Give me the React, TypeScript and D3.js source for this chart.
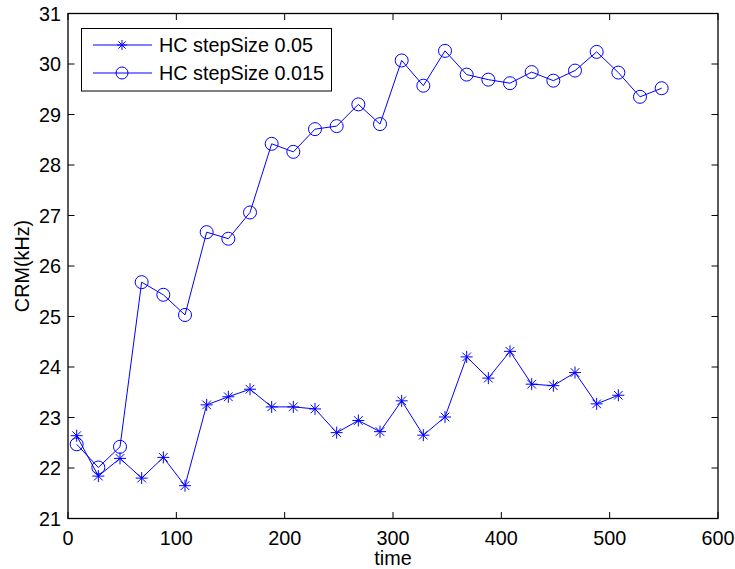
import React from "react";
import * as d3 from "d3";

const timesStar = [8, 28, 48, 68, 88, 108, 128, 148, 168, 188, 208, 228, 248, 268, 288, 308, 328, 348, 368, 388, 408, 428, 448, 468, 488, 508];
const valuesStar = [22.64, 21.84, 22.19, 21.8, 22.21, 21.65, 23.25, 23.41, 23.56, 23.21, 23.21, 23.17, 22.7, 22.94, 22.72, 23.33, 22.65, 23.01, 24.2, 23.78, 24.31, 23.66, 23.63, 23.89, 23.27, 23.44];

const timesCircle = [8, 28, 48, 68, 88, 108, 128, 148, 168, 188, 208, 228, 248, 268, 288, 308, 328, 348, 368, 388, 408, 428, 448, 468, 488, 508, 528, 548];
const valuesCircle = [22.47, 22.01, 22.42, 25.68, 25.43, 25.03, 26.67, 26.54, 27.06, 28.42, 28.26, 28.71, 28.77, 29.2, 28.81, 30.07, 29.57, 30.26, 29.79, 29.69, 29.62, 29.84, 29.67, 29.87, 30.24, 29.83, 29.35, 29.52];

const xTicks = [0, 100, 200, 300, 400, 500, 600];
const yTicks = [21, 22, 23, 24, 25, 26, 27, 28, 29, 30, 31];
const legendLabels = ["HC stepSize 0.05", "HC stepSize 0.015"];

const W = 735, H = 569;
const L = 68, R = 718, T = 13.5, B = 518.5;
const FONT = "'Liberation Sans', Arial, Helvetica, sans-serif";
const FS = 19.8;
const BLUE = "#0000ff";

function Star({ x, y, s }: { x: number; y: number; s: number }) {
  const d = s * 0.72;
  return (
    <g stroke={BLUE} strokeWidth={1}>
      <line x1={x - s} y1={y} x2={x + s} y2={y} />
      <line x1={x} y1={y - s} x2={x} y2={y + s} />
      <line x1={x - d} y1={y - d} x2={x + d} y2={y + d} />
      <line x1={x - d} y1={y + d} x2={x + d} y2={y - d} />
    </g>
  );
}

export default function App() {
  const x = d3.scaleLinear().domain([0, 600]).range([L, R]);
  const y = d3.scaleLinear().domain([21, 31]).range([B, T]);
  const starPts = timesStar.map((t, i) => [x(t), y(valuesStar[i])] as [number, number]);
  const circPts = timesCircle.map((t, i) => [x(t), y(valuesCircle[i])] as [number, number]);
  const line = d3.line<[number, number]>();
  const tl = 6.5;

  return (
    <svg width={W} height={H} style={{ position: "absolute", left: 0, top: 0, background: "#fff" }}>
      <rect x={0} y={0} width={W} height={H} fill="#fff" />
      <g stroke="#000" strokeWidth={1}>
        {xTicks.map((t) => (
          <g key={"xt" + t}>
            <line x1={x(t)} x2={x(t)} y1={B} y2={B - tl} />
            <line x1={x(t)} x2={x(t)} y1={T} y2={T + tl} />
          </g>
        ))}
        {yTicks.map((t) => (
          <g key={"yt" + t}>
            <line x1={L} x2={L + tl} y1={y(t)} y2={y(t)} />
            <line x1={R} x2={R - tl} y1={y(t)} y2={y(t)} />
          </g>
        ))}
      </g>
      <rect x={L} y={T} width={R - L} height={B - T} fill="none" stroke="#000" strokeWidth={1.3} />
      <g fontFamily={FONT} fontSize={FS} fill="#000">
        {xTicks.map((t) => (
          <text key={"xl" + t} x={x(t)} y={B + 26} textAnchor="middle">{t}</text>
        ))}
        {yTicks.map((t) => (
          <text key={"yl" + t} x={L - 7} y={y(t) + 7} textAnchor="end">{t}</text>
        ))}
        <text x={(L + R) / 2} y={565} textAnchor="middle">time</text>
        <text transform={`translate(${29},${(T + B) / 2}) rotate(-90)`} textAnchor="middle">CRM(kHz)</text>
      </g>
      <path d={line(starPts) || ""} fill="none" stroke={BLUE} strokeWidth={1} />
      {starPts.map((p, i) => (
        <Star key={"s" + i} x={p[0]} y={p[1]} s={6} />
      ))}
      <path d={line(circPts) || ""} fill="none" stroke={BLUE} strokeWidth={1} />
      {circPts.map((p, i) => (
        <circle key={"c" + i} cx={p[0]} cy={p[1]} r={6.5} fill="none" stroke={BLUE} strokeWidth={1} />
      ))}
      <rect x={81.5} y={28.5} width={250} height={62.5} fill="#fff" stroke="#000" strokeWidth={1} />
      <g>
        <line x1={93} x2={152} y1={45} y2={45} stroke={BLUE} strokeWidth={1} />
        <Star x={122} y={45} s={5} />
        <line x1={93} x2={152} y1={73} y2={73} stroke={BLUE} strokeWidth={1} />
        <circle cx={122} cy={73} r={6} fill="none" stroke={BLUE} strokeWidth={1} />
        <text x={159} y={52} fontFamily={FONT} fontSize={FS} fill="#000">{legendLabels[0]}</text>
        <text x={159} y={80} fontFamily={FONT} fontSize={FS} fill="#000">{legendLabels[1]}</text>
      </g>
    </svg>
  );
}
